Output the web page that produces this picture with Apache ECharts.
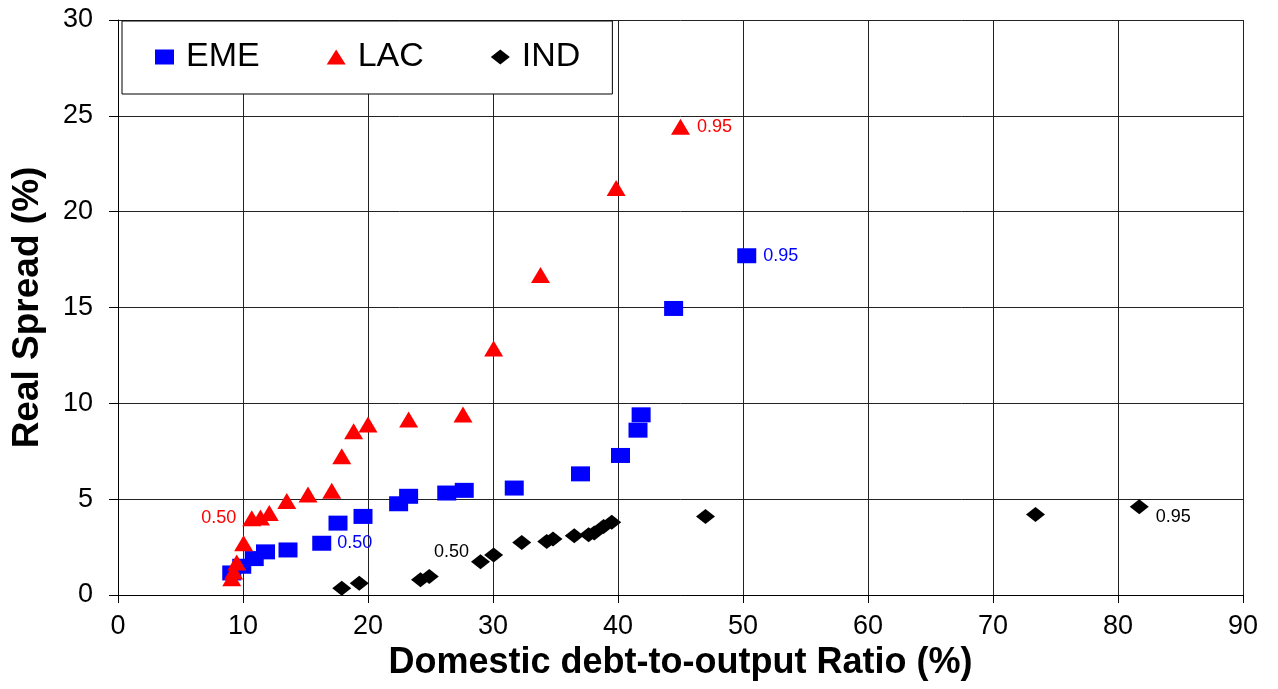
<!DOCTYPE html>
<html>
<head>
<meta charset="utf-8">
<script src="https://cdn.jsdelivr.net/npm/echarts@6/dist/echarts.min.js"></script>
<style>
html,body{margin:0;padding:0;background:#fff;}
#chart{width:1278px;height:689px;}
</style>
</head>
<body>
<div id="chart"></div>
<script>
// ---- data ----
const seriesNames = ['EME', 'LAC', 'IND'];

const emeX = [9.1, 9.9, 10.9, 11.8, 13.6, 16.3, 17.6, 19.6, 22.45, 23.25, 26.3, 27.7, 31.7, 37.0, 40.2, 41.6, 41.85, 44.45, 50.3];
const emeY = [1.15, 1.5, 1.9, 2.25, 2.35, 2.7, 3.75, 4.1, 4.76, 5.15, 5.32, 5.46, 5.58, 6.32, 7.28, 8.6, 9.4, 14.95, 17.7];

const lacX = [9.1, 9.25, 9.5, 10.05, 10.7, 11.4, 12.1, 13.5, 15.2, 17.1, 17.9, 18.85, 20.0, 23.25, 27.6, 30.05, 33.8, 39.85, 45.0];
const lacY = [0.87, 1.22, 1.7, 2.7, 4.0, 4.05, 4.28, 4.9, 5.24, 5.44, 7.24, 8.55, 8.9, 9.16, 9.42, 12.86, 16.7, 21.24, 24.43];

const indX = [17.9, 19.3, 24.2, 24.9, 29.0, 30.05, 32.3, 34.3, 34.8, 36.5, 37.65, 38.1, 38.85, 39.5, 47.0, 73.4, 81.7];
const indY = [0.35, 0.61, 0.79, 0.96, 1.74, 2.09, 2.74, 2.79, 2.92, 3.09, 3.14, 3.23, 3.58, 3.79, 4.1, 4.2, 4.6];

// labelled points: index into each series, and the label text
const emeNoteIdx = [5, 18];  const emeNoteText = ['0.50', '0.95'];
const lacNoteIdx = [4, 18];  const lacNoteText = ['0.50', '0.95'];
const indNoteIdx = [4, 16];  const indNoteText = ['0.50', '0.95'];

const xTicks = [0, 10, 20, 30, 40, 50, 60, 70, 80, 90];
const yTicks = [0, 5, 10, 15, 20, 25, 30];

const xAxisTitle = 'Domestic debt-to-output Ratio (%)';
const yAxisTitle = 'Real Spread (%)';

// ---- build chart ----
const FONT = 'Arial, "Liberation Sans", sans-serif';

function buildData(xs, ys, noteIdx, noteText, color, labelStyles) {
  return xs.map((x, i) => {
    const k = noteIdx.indexOf(i);
    const item = { value: [x, ys[i]] };
    if (k >= 0) {
      item.label = Object.assign({
        show: true,
        formatter: noteText[k],
        color: color,
        fontSize: 18,
        fontFamily: FONT
      }, labelStyles[k]);
    }
    return item;
  });
}

const emeData = buildData(emeX, emeY, emeNoteIdx, emeNoteText, '#0000ff',
  [{ position: 'right', distance: 6 }, { position: 'right', distance: 7 }]);
const lacData = buildData(lacX, lacY, lacNoteIdx, lacNoteText, '#ff0000',
  [{ position: 'left', distance: 6 }, { position: 'right', distance: 7 }]);
const indData = buildData(indX, indY, indNoteIdx, indNoteText, '#000000',
  [{ position: 'left', distance: 2, offset: [0, -10] }, { position: 'right', distance: 7, offset: [0, 10] }]);

const chart = echarts.init(document.getElementById('chart'), null, { renderer: 'canvas' });

const option = {
  backgroundColor: '#ffffff',
  animation: false,
  grid: { left: 118, right: 35, top: 20, bottom: 94, containLabel: false },
  legend: {
    left: 122, top: 21,
    orient: 'horizontal',
    backgroundColor: '#ffffff',
    borderColor: '#000000',
    borderWidth: 1,
    padding: [19, 32, 20, 33],
    itemGap: 67,
    itemWidth: 19,
    itemHeight: 15,
    z: 10,
    data: [
      { name: seriesNames[0], icon: 'rect' },
      { name: seriesNames[1], icon: 'triangle' },
      { name: seriesNames[2], icon: 'diamond' }
    ],
    textStyle: { fontSize: 34, fontFamily: FONT, color: '#000', padding: [0, 0, 0, 7] }
  },
  xAxis: {
    type: 'value',
    min: xTicks[0], max: xTicks[xTicks.length - 1], interval: xTicks[1] - xTicks[0],
    name: xAxisTitle,
    nameLocation: 'middle',
    nameGap: 48,
    nameTextStyle: { fontSize: 36, fontWeight: 'bold', fontFamily: FONT, color: '#000' },
    axisLine: { show: true, onZero: false, lineStyle: { color: '#000', width: 1 } },
    axisTick: { show: true, inside: false, length: 8, lineStyle: { color: '#000' } },
    axisLabel: { fontSize: 27, fontFamily: FONT, color: '#000', margin: 18 },
    splitLine: { show: true, lineStyle: { color: '#222', width: 1 } }
  },
  yAxis: {
    type: 'value',
    min: yTicks[0], max: yTicks[yTicks.length - 1], interval: yTicks[1] - yTicks[0],
    name: yAxisTitle,
    nameLocation: 'middle',
    nameGap: 72,
    nameRotate: 90,
    nameTextStyle: { fontSize: 37, fontWeight: 'bold', fontFamily: FONT, color: '#000' },
    axisLine: { show: true, onZero: false, lineStyle: { color: '#000', width: 1 } },
    axisTick: { show: true, inside: false, length: 9, lineStyle: { color: '#000' } },
    axisLabel: { fontSize: 27, fontFamily: FONT, color: '#000', margin: 25 },
    splitLine: { show: true, lineStyle: { color: '#222', width: 1 } }
  },
  series: [
    {
      name: seriesNames[0], type: 'scatter', symbol: 'rect', symbolSize: [19, 15],
      itemStyle: { color: '#0000ff', opacity: 1 }, data: emeData, z: 3
    },
    {
      name: seriesNames[1], type: 'scatter', symbol: 'triangle', symbolSize: [19, 16],
      itemStyle: { color: '#ff0000', opacity: 1 }, data: lacData, z: 4
    },
    {
      name: seriesNames[2], type: 'scatter', symbol: 'diamond', symbolSize: [19, 15],
      itemStyle: { color: '#000000', opacity: 1 }, data: indData, z: 5
    }
  ]
};
chart.setOption(option);
</script>
</body>
</html>
